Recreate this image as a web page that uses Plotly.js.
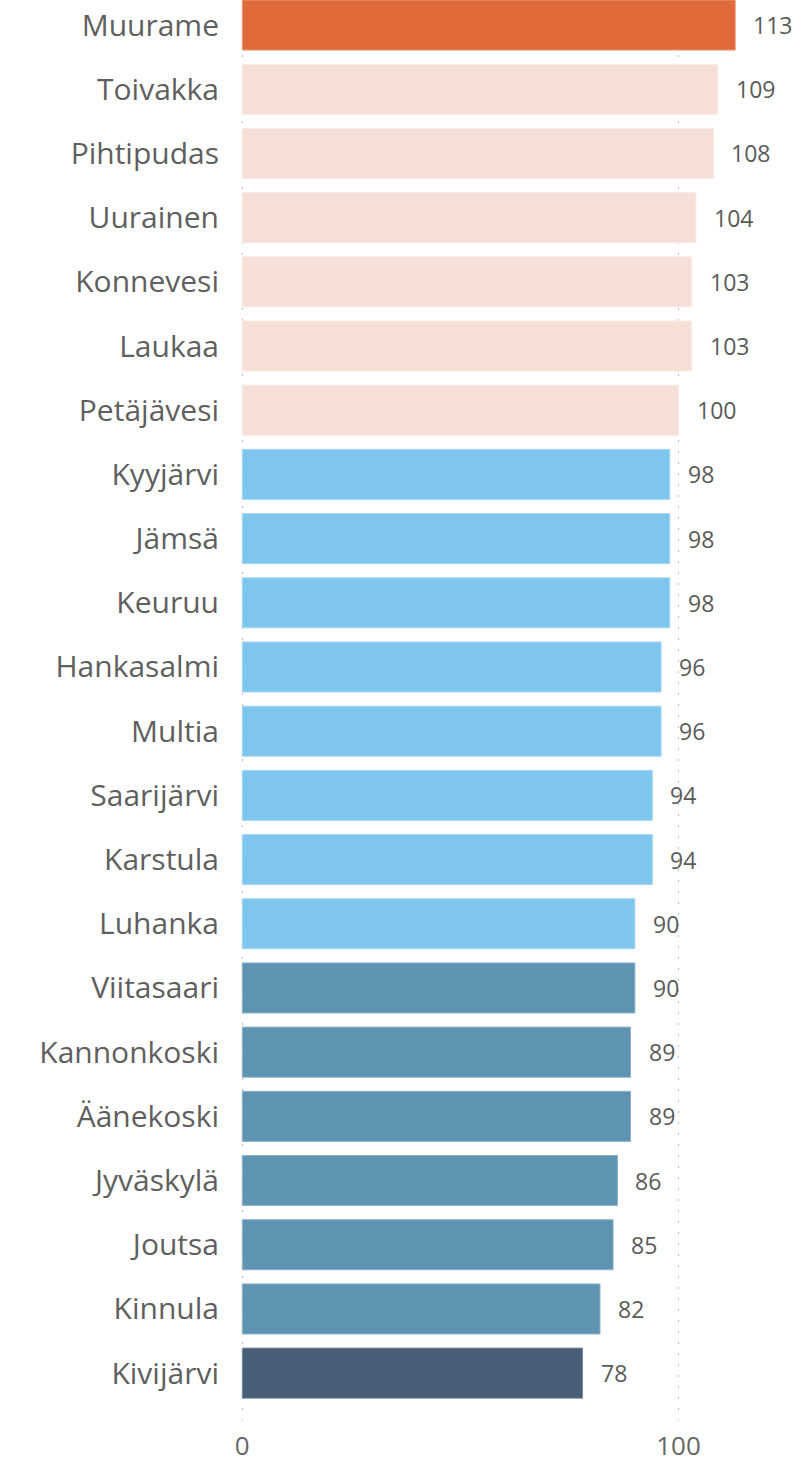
<!DOCTYPE html>
<html><head><meta charset="utf-8">
<script src="https://cdn.plot.ly/plotly-3.0.1.min.js"></script>
<style>html,body{margin:0;padding:0;background:#fff;}#chart{width:812px;height:1464px;}</style>
</head><body><div id="chart"></div>
<script>
var categories = ["Muurame","Toivakka","Pihtipudas","Uurainen","Konnevesi","Laukaa","Petäjävesi","Kyyjärvi","Jämsä","Keuruu","Hankasalmi","Multia","Saarijärvi","Karstula","Luhanka","Viitasaari","Kannonkoski","Äänekoski","Jyväskylä","Joutsa","Kinnula","Kivijärvi"];
var values = [113,109,108,104,103,103,100,98,98,98,96,96,94,94,90,90,89,89,86,85,82,78];
var groups = ["top","high","high","high","high","high","high","mid","mid","mid","mid","mid","mid","mid","mid","low","low","low","low","low","low","bottom"];
var tickVals = [0,100];
var tickText = ["0","100"];

var groupColors = {top:"#E0693A", high:"#F6DFD6", mid:"#7FC6EE", low:"#5E93B2", bottom:"#485D76"};
var groupLines = {top:"#EC9A78", high:"#FAEBE5", mid:"#A9D8F3", low:"#8DB3C9", bottom:"#7A8BA0"};

var trace = {
  type:"bar", orientation:"h",
  y: categories, x: values,
  marker:{color: groups.map(function(g){return groupColors[g];}),
          line:{color: groups.map(function(g){return groupLines[g];}), width:1}},
  width: 0.78,
  hoverinfo:"none"
};

var annotations = categories.map(function(c,i){
  return {x: values[i], y: c, xref:"x", yref:"y", text: String(values[i]),
          showarrow:false, xanchor:"left", xshift:16,
          font:{family:"Open Sans, Noto Sans, sans-serif", size:23, color:"#5a5a5a"}};
});

var layout = {
  width:812, height:1464,
  margin:{l:241, r:0, t:0, b:44},
  paper_bgcolor:"#fff", plot_bgcolor:"#fff",
  showlegend:false,
  bargap:0.22,
  xaxis:{range:[-0.3,130.6], tickvals:tickVals, ticktext:tickText,
         showgrid:true, gridcolor:"#bdbdbd", griddash:"2px,9px", gridwidth:1.5,
         zeroline:false, showline:false, ticks:"", ticklabelstandoff:8,
         tickfont:{family:"Open Sans, Noto Sans, sans-serif", size:26, color:"#666"}},
  yaxis:{type:"category", range:[21.73,-0.39], showgrid:false, zeroline:false,
         showline:false, ticks:"", ticklabelstandoff:21,
         tickfont:{family:"Open Sans, Noto Sans, sans-serif", size:30, color:"#5f5f5f"}},
  annotations: annotations
};

Plotly.newPlot("chart", [trace], layout, {staticPlot:true, displayModeBar:false});
</script></body></html>
